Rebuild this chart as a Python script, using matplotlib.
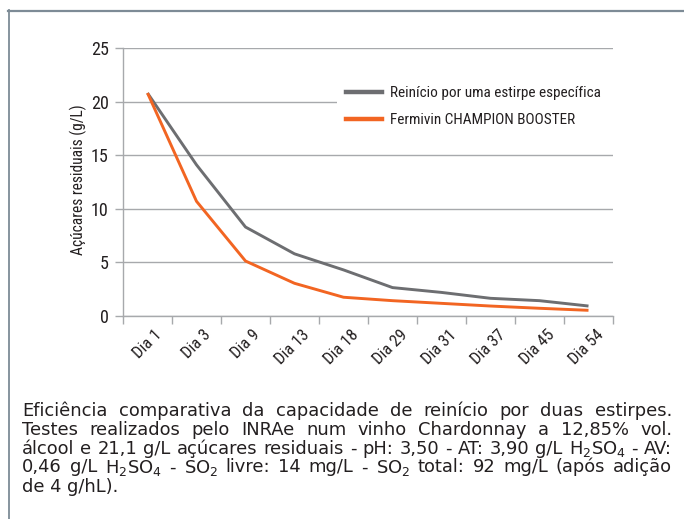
import matplotlib
matplotlib.use('Agg')
import matplotlib.pyplot as plt
from matplotlib.lines import Line2D
import matplotlib.transforms as mtransforms
from matplotlib import font_manager
from matplotlib.font_manager import FontProperties

# ---------------- data ----------------
days = ['Dia 1', 'Dia 3', 'Dia 9', 'Dia 13', 'Dia 18', 'Dia 29', 'Dia 31', 'Dia 37', 'Dia 45', 'Dia 54']
specific_strain = [20.8, 14.1, 8.3, 5.8, 4.3, 2.65, 2.2, 1.65, 1.43, 0.93]
champion_booster = [20.8, 10.7, 5.13, 3.05, 1.75, 1.43, 1.18, 0.93, 0.72, 0.53]
y_ticks = [0, 5, 10, 15, 20, 25]
series_labels = ['Reinício por uma estirpe específica', 'Fermivin CHAMPION BOOSTER']
y_label = 'Açúcares residuais (g/L)'
caption_lines = [
    'Eficiência comparativa da capacidade de reinício por duas estirpes.',
    'Testes realizados pelo INRAe num vinho Chardonnay a 12,85% vol.',
    'álcool e 21,1 g/L açúcares residuais - pH: 3,50 - AT: 3,90 g/L H$_2$SO$_4$ - AV:',
    '0,46 g/L H$_2$SO$_4$ - SO$_2$ livre: 14 mg/L - SO$_2$ total: 92 mg/L (após adição',
    'de 4 g/hL).',
]

# ---------------- fonts ----------------
entries = font_manager.fontManager.ttflist


def is_regular(f):
    fn = f.fname.lower()
    return (f.style == 'normal' and not any(k in fn for k in
            ['bold', 'italic', 'light', 'thin', 'black', 'medium', 'semibold', 'extra', 'oblique']))


def find_narrow():
    prefs = ['Liberation Sans Narrow', 'Roboto Condensed', 'DejaVu Sans Condensed',
             'Noto Sans Condensed', 'Open Sans Condensed', 'Arial Narrow']
    for p in prefs:
        for f in entries:
            if f.name == p and is_regular(f):
                return f.fname
    for f in entries:
        fn = f.fname.lower()
        if ('condensed' in fn or 'narrow' in fn) and f.style == 'normal' \
                and 'bold' not in fn and 'italic' not in fn and 'semi' not in fn:
            return f.fname
    for f in entries:
        if str(f.stretch) in ('condensed', 'semi-condensed') and is_regular(f):
            return f.fname
    return None


narrow_path = find_narrow()


def nfp(size):
    if narrow_path:
        return FontProperties(fname=narrow_path, size=size)
    return FontProperties(family='Roboto', size=size * 0.88)


fp_ytick = nfp(13)
fp_xtick = nfp(12)
fp_leg = nfp(11)
fp_ylab = nfp(11.2)

cap_font = 'DejaVu Sans'
plt.rcParams['mathtext.fontset'] = 'dejavusans'

W, H = 684, 519
grid_c = '#a7a9ac'
gray_c = '#6d6e71'
orange_c = '#f26522'
text_c = '#231f20'
frame_c = '#7d8b96'

fig = plt.figure(figsize=(W / 100, H / 100), dpi=100)
fig.patch.set_facecolor('white')


def px(x, y):
    return x / W, 1 - y / H


ax = fig.add_axes([123 / W, 1 - 316 / H, 490 / W, 268 / H])
x = [i + 0.5 for i in range(len(days))]
ax.plot(x, specific_strain, color=gray_c, lw=2.1, solid_capstyle='butt', zorder=3)
ax.plot(x, champion_booster, color=orange_c, lw=2.1, solid_capstyle='butt', zorder=3)

ax.set_xlim(0, len(days))
ax.set_ylim(0, 25)
ax.set_yticks(y_ticks)
ax.set_yticklabels([str(v) for v in y_ticks], fontproperties=fp_ytick, color=text_c)
ax.set_xticks(range(len(days) + 1))
ax.set_xticklabels([])

# category labels, rotated, anchored below each category centre
lab_tr = ax.get_xaxis_transform() + mtransforms.ScaledTranslation(7 / 100, -11 / 100,
                                                                   fig.dpi_scale_trans)
for xi, d in zip(x, days):
    ax.text(xi, 0, d, transform=lab_tr, rotation=45, ha='right', va='top',
            rotation_mode='anchor', fontproperties=fp_xtick, color=text_c, clip_on=False)

ax.tick_params(axis='x', which='major', length=5.8, width=1, color=grid_c)
ax.tick_params(axis='y', which='major', length=5.8, width=1, color=grid_c, pad=4.5)

ax.grid(axis='y', color=grid_c, lw=1)
ax.set_axisbelow(True)
for s in ['top', 'right']:
    ax.spines[s].set_visible(False)
for s in ['left', 'bottom']:
    ax.spines[s].set_color(grid_c)
    ax.spines[s].set_linewidth(1)

fig.text(*px(78, 180), y_label, rotation=90, ha='center', va='center',
         fontproperties=fp_ylab, color=text_c)

handles = [Line2D([], [], color=gray_c, lw=3.2), Line2D([], [], color=orange_c, lw=3.2)]
leg = ax.legend(handles, series_labels, loc='upper left',
                bbox_to_anchor=(0.437, 0.0, 0.5633, 0.892), mode='expand',
                frameon=True, facecolor='white', edgecolor='none', framealpha=1,
                fancybox=False, borderaxespad=0, borderpad=0.6, handlelength=2.35,
                handletextpad=0.52, labelspacing=0.85, prop=fp_leg)
for t in leg.get_texts():
    t.set_color(text_c)

# frame
fig.add_artist(Line2D([8.5 / W, 8.5 / W], [0, 1 - 10 / H], transform=fig.transFigure,
                      color=frame_c, lw=1.3))
fig.add_artist(Line2D([8 / W, 1], [1 - 10.5 / H, 1 - 10.5 / H], transform=fig.transFigure,
                      color=frame_c, lw=1.6))

# caption, justified
left_px, right_px = 22, 672
baselines = [416.5, 435, 454, 472.5, 491.5]
fig.canvas.draw()
renderer = fig.canvas.get_renderer()


def width_px(s, size):
    t = fig.text(0, 0, s, fontsize=size, family=cap_font)
    w = t.get_window_extent(renderer).width
    t.remove()
    return w


# size so that the naturally spaced third line fills the text column
w11 = width_px(caption_lines[2], 11)
cap_fs = 11 * (right_px - left_px) / w11

for i, line in enumerate(caption_lines):
    yb = baselines[i]
    if i == len(caption_lines) - 1:
        fig.text(*px(left_px, yb), line, fontsize=cap_fs, family=cap_font,
                 color=text_c, va='baseline', ha='left')
        continue
    words = line.split(' ')
    widths = [width_px(w, cap_fs) for w in words]
    gap = (right_px - left_px - sum(widths)) / (len(words) - 1)
    xpos = left_px
    for w, wd in zip(words, widths):
        fig.text(*px(xpos, yb), w, fontsize=cap_fs, family=cap_font,
                 color=text_c, va='baseline', ha='left')
        xpos += wd + gap

fig.savefig('out.png', dpi=100, facecolor='white')
